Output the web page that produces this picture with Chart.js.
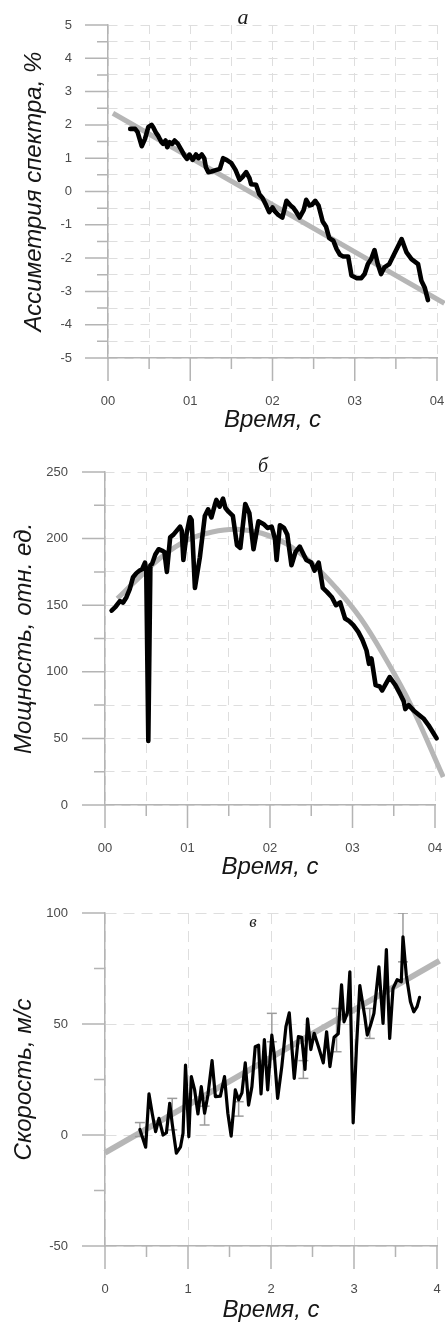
<!DOCTYPE html>
<html lang="ru">
<head>
<meta charset="utf-8">
<title>Асимметрия, мощность, скорость</title>
<script src="https://cdn.jsdelivr.net/npm/chart.js@4.4.1/dist/chart.umd.min.js"></script>
<style>
  html, body { margin: 0; padding: 0; background: #fff; }
  #wrap { position: relative; width: 445px; height: 1322px; }
  canvas { position: absolute; left: 0; }
</style>
</head>
<body>
<div id="wrap">
  <canvas id="chartA" width="445" height="432" style="top:0"></canvas>
  <canvas id="chartB" width="445" height="447" style="top:432px"></canvas>
  <canvas id="chartC" width="445" height="443" style="top:879px"></canvas>
</div>
<script>
// --- panel a: асимметрия спектра ---
const timeA = [0.27,0.33,0.36,0.41,0.45,0.49,0.53,0.55,0.58,0.61,0.65,0.67,0.70,0.72,0.75,0.78,0.81,0.85,0.89,0.93,
  0.96,0.99,1.03,1.07,1.10,1.14,1.17,1.19,1.22,1.26,1.32,1.36,1.40,1.44,1.50,1.55,1.60,1.64,1.68,1.72,
  1.74,1.80,1.84,1.88,1.92,1.96,2.00,2.03,2.07,2.12,2.17,2.22,2.25,2.28,2.33,2.38,2.41,2.45,2.48,2.52,
  2.56,2.61,2.65,2.69,2.74,2.78,2.82,2.86,2.92,2.96,3.02,3.08,3.12,3.16,3.20,3.24,3.28,3.32,3.36,3.42,
  3.48,3.57,3.63,3.69,3.77,3.81,3.85,3.89];
const asymA = [1.88,1.88,1.78,1.36,1.58,1.93,2.0,1.93,1.78,1.67,1.48,1.43,1.53,1.33,1.48,1.43,1.53,1.43,1.26,1.08,
  0.98,1.11,0.95,1.11,1.0,1.11,1.0,0.73,0.58,0.6,0.65,0.68,1.0,0.95,0.85,0.65,0.35,0.45,0.58,0.4,
  0.22,0.2,-0.08,-0.2,-0.4,-0.62,-0.48,-0.6,-0.7,-0.78,-0.28,-0.42,-0.48,-0.58,-0.78,-0.55,-0.25,-0.42,-0.4,-0.28,
  -0.42,-0.9,-1.05,-1.4,-1.48,-1.73,-1.9,-1.95,-1.95,-2.52,-2.6,-2.6,-2.48,-2.18,-2.03,-1.76,-2.18,-2.48,-2.28,-2.18,
  -1.88,-1.43,-1.83,-2.03,-2.18,-2.68,-2.88,-3.26];
const trendTimeA = [0.06, 4.09];
const trendA = [2.35, -3.36];

// --- panel б: мощность ---
const timeB = [0.08,0.13,0.18,0.22,0.26,0.30,0.34,0.38,0.42,0.45,0.485,0.50,0.525,0.55,0.57,0.61,0.65,0.69,0.72,0.75,
  0.79,0.83,0.87,0.91,0.93,0.95,0.99,1.03,1.05,1.09,1.15,1.21,1.25,1.29,1.33,1.35,1.39,1.43,1.46,1.50,
  1.55,1.60,1.64,1.70,1.75,1.80,1.86,1.92,1.97,2.02,2.06,2.08,2.12,2.17,2.21,2.26,2.31,2.36,2.40,2.44,
  2.50,2.54,2.59,2.64,2.69,2.75,2.80,2.85,2.91,2.96,3.01,3.07,3.12,3.17,3.20,3.23,3.28,3.33,3.36,3.45,
  3.52,3.58,3.62,3.64,3.68,3.74,3.80,3.86,3.92,3.98,4.02,4.05,4.08];
const powerB = [146,149,153,152,156,162,171,174,176,177,182,176,48,180,181,188,192,191,190,175,
  201,203,206,209,206,184,204,216,214,163,186,217,222,216,225,229,224,230,223,220,
  217,195,193,226,219,192,213,211,208,209,200,184,210,208,203,180,190,194,189,184,
  182,176,182,163,160,156,150,152,140,138,135,130,124,116,106,110,90,89,86,96,
  90,83,78,72,75,71,68,65,60,54,50,51,47];
const trendTimeB = [0.15,0.4,0.7,1.0,1.3,1.6,1.9,2.2,2.5,2.8,3.1,3.4,3.7,4.1];
const trendB = [155,170,187,199,205,207,204,196,182,163,140,110,76,21];

// --- panel в: скорость ---
const timeC = [0.42,0.46,0.49,0.53,0.57,0.61,0.65,0.70,0.74,0.78,0.81,0.86,0.91,0.94,0.97,1.01,1.04,1.08,1.12,1.16,
  1.20,1.24,1.29,1.33,1.39,1.44,1.48,1.52,1.57,1.61,1.65,1.69,1.73,1.77,1.81,1.85,1.88,1.92,1.96,2.01,
  2.04,2.08,2.13,2.18,2.22,2.28,2.33,2.37,2.41,2.44,2.48,2.52,2.57,2.63,2.67,2.71,2.76,2.81,2.85,2.88,
  2.92,2.95,2.99,3.03,3.07,3.13,3.16,3.20,3.24,3.30,3.35,3.39,3.43,3.47,3.52,3.57,3.59,3.63,3.68,3.72,
  3.76,3.79];
const speedC = [2.5,-2,-5.5,18.5,9.5,1.5,7.5,0,1,14.3,5,-8.2,-5.3,0.8,31.5,-0.8,26.3,20.3,9.5,21.8,
  9.8,18,33.5,17.3,17.5,26.3,9.8,-0.5,20.3,15.8,19,32.5,13.5,21.8,39.8,40.5,18.5,43,20.3,45,
  36,16.5,30.8,48.8,55,25.5,44.3,44,29.5,52.3,38.5,45.8,40,32.5,46.5,30.8,44,45.6,67.6,51,
  55,73.5,5.5,39.8,67.3,53.3,45,49.5,54.8,75.7,50.3,83.5,43.5,66,70,69,89.3,72,60,55.5,
  57.8,62];
const trendTimeC = [0, 4.03];
const trendC = [-8, 78.5];
const errTimeC = [0.42, 0.81, 1.20, 1.61, 2.01, 2.39, 2.79, 3.19, 3.59];
const errLowC = [-0.7, 2.3, 4.5, 8.5, 42, 25.5, 37.5, 43.5, 78];
const errHighC = [5.6, 16.5, 13, 15, 54.8, 33.5, 57, 57, 100];

// подписи делений
const xLabelsAB = ['00', '01', '02', '03', '04'];
const xLabelsC = ['0', '1', '2', '3', '4'];
const yLabelsA = ['-5', '-4', '-3', '-2', '-1', '0', '1', '2', '3', '4', '5'];
const yLabelsB = ['0', '50', '100', '150', '200', '250'];
const yLabelsC = ['-50', '0', '50', '100'];

const TICK_COLOR = '#4a4a4a';
const AXIS_COLOR = '#b4b4b4';
const GRID_COLOR = '#dedede';
const TITLE_COLOR = '#161616';
const SANS = "'Liberation Sans', Arial, sans-serif";
const tickFont = { family: SANS, size: 13 };
const titleFont = { family: SANS, size: 24, style: 'italic', lineHeight: 1 };

function isMajor(v, step) {
  const r = v / step;
  return Math.abs(r - Math.round(r)) < 1e-6;
}

function pairs(xs, ys) {
  return xs.map((x, i) => ({ x: x, y: ys[i] }));
}

// засечки на осях: длинные на основных делениях, короткие на промежуточных
const tickMarks = {
  id: 'tickMarks',
  afterDraw(chart, args, opts) {
    const { ctx, chartArea: area, scales: { x, y } } = chart;
    ctx.save();
    ctx.strokeStyle = AXIS_COLOR;
    ctx.lineWidth = 1.5;
    ctx.beginPath();
    x.ticks.forEach(t => {
      const px = x.getPixelForValue(t.value);
      const len = isMajor(t.value, opts.xMajor) ? 23 : 11;
      ctx.moveTo(px, area.bottom);
      ctx.lineTo(px, area.bottom + len);
    });
    y.ticks.forEach(t => {
      const py = y.getPixelForValue(t.value);
      const len = isMajor(t.value, opts.yMajor) ? 23 : 11;
      ctx.moveTo(area.left, py);
      ctx.lineTo(area.left - len, py);
    });
    ctx.stroke();
    ctx.restore();
  }
};

// буква панели (а, б, в)
const panelLetter = {
  id: 'panelLetter',
  afterDraw(chart, args, opts) {
    const ctx = chart.ctx;
    ctx.save();
    ctx.font = opts.font;
    ctx.fillStyle = '#1a1a1a';
    ctx.textAlign = 'center';
    ctx.textBaseline = 'middle';
    ctx.fillText(opts.text, opts.x, opts.y);
    ctx.restore();
  }
};

function buildChart(id, p) {
  return new Chart(document.getElementById(id), {
    type: 'line',
    data: { datasets: p.datasets },
    options: {
      responsive: false,
      animation: false,
      events: [],
      layout: { padding: { top: p.padTop, right: p.padRight, left: 0, bottom: 0 } },
      plugins: {
        legend: { display: false },
        tooltip: { enabled: false },
        tickMarks: { xMajor: 1, yMajor: p.yMajor },
        panelLetter: p.letter
      },
      scales: {
        x: {
          type: 'linear',
          min: 0,
          max: 4,
          afterFit: s => {
            s.height = p.xAxisHeight;
            s.paddingLeft = 0;
            s.paddingRight = 0;
          },
          ticks: {
            stepSize: 0.5,
            autoSkip: false,
            maxRotation: 0,
            padding: 13,
            color: TICK_COLOR,
            font: tickFont,
            callback: v => isMajor(v, 1) ? p.xLabels[Math.round(v)] : ''
          },
          grid: {
            color: c => (c.tick && isMajor(c.tick.value, p.xGrid)) ? GRID_COLOR : 'transparent',
            lineWidth: 1,
            drawTicks: true,
            tickLength: 23,
            tickColor: 'transparent'
          },
          border: { display: true, color: AXIS_COLOR, width: 1.5, dash: p.dash },
          title: {
            display: true,
            text: 'Время, с',
            color: TITLE_COLOR,
            font: titleFont,
            padding: { top: 0, bottom: 0 }
          }
        },
        y: {
          type: 'linear',
          min: p.yMin,
          max: p.yMax,
          afterFit: s => {
            s.width = p.yAxisWidth;
            s.paddingTop = 0;
            s.paddingBottom = 0;
          },
          ticks: {
            stepSize: p.yStep,
            autoSkip: false,
            padding: p.yTickPad,
            color: TICK_COLOR,
            font: tickFont,
            callback: v => isMajor(v, p.yMajor) ? p.yLabels[Math.round((v - p.yMin) / p.yMajor)] : ''
          },
          grid: {
            color: c => (c.tick && isMajor(c.tick.value, p.yGrid)) ? GRID_COLOR : 'transparent',
            lineWidth: 1,
            drawTicks: true,
            tickLength: 23,
            tickColor: 'transparent'
          },
          border: { display: true, color: AXIS_COLOR, width: 1.5, dash: p.dash },
          title: {
            display: true,
            text: p.yTitle,
            color: TITLE_COLOR,
            font: titleFont,
            padding: { top: p.yTitlePad, bottom: 0 }
          }
        }
      }
    },
    plugins: [tickMarks, panelLetter]
  });
}

const blackLine = (data, w) => ({
  data: data,
  borderColor: '#000',
  borderWidth: w,
  pointRadius: 0,
  tension: 0,
  borderJoinStyle: 'round',
  borderCapStyle: 'round',
  clip: false,
  order: 0
});

const greyLine = (data, w, tension) => ({
  data: data,
  borderColor: '#b6b6b6',
  borderWidth: w,
  pointRadius: 0,
  tension: tension,
  borderCapStyle: 'butt',
  clip: false,
  order: 2
});

buildChart('chartA', {
  padTop: 25, padRight: 8, yAxisWidth: 108, xAxisHeight: 74,
  yMin: -5, yMax: 5, yStep: 0.5, yMajor: 1, yGrid: 0.5, xGrid: 0.5,
  yLabels: yLabelsA, xLabels: xLabelsAB, yTickPad: 13, yTitlePad: 22,
  dash: [9, 7],
  yTitle: 'Ассиметрия спектра, %',
  letter: { text: 'а', x: 243, y: 18, font: "italic 22px 'Liberation Serif', serif" },
  datasets: [
    blackLine(pairs(timeA, asymA), 4.6),
    greyLine(pairs(trendTimeA, trendA), 5, 0)
  ]
});

buildChart('chartB', {
  padTop: 40, padRight: 10, yAxisWidth: 105, xAxisHeight: 74,
  yMin: 0, yMax: 250, yStep: 25, yMajor: 50, yGrid: 25, xGrid: 0.5,
  yLabels: yLabelsB, xLabels: xLabelsAB, yTickPad: 14, yTitlePad: 12,
  dash: [9, 7],
  yTitle: 'Мощность, отн. ед.',
  letter: { text: 'б', x: 263, y: 35, font: "italic 20px 'Liberation Serif', serif" },
  datasets: [
    blackLine(pairs(timeB, powerB), 4.6),
    greyLine(pairs(trendTimeB, trendB), 5, 0.4)
  ]
});

const errData = [];
errTimeC.forEach((t, i) => {
  errData.push({ x: t, y: errLowC[i] }, { x: t, y: errHighC[i] }, { x: t, y: null });
});

buildChart('chartC', {
  padTop: 34, padRight: 8, yAxisWidth: 105, xAxisHeight: 76,
  yMin: -50, yMax: 100, yStep: 25, yMajor: 50, yGrid: 50, xGrid: 1,
  yLabels: yLabelsC, xLabels: xLabelsC, yTickPad: 14, yTitlePad: 12,
  dash: [11, 7],
  yTitle: 'Скорость, м/с',
  letter: { text: 'в', x: 253, y: 44, font: "italic 17px 'Liberation Serif', serif" },
  datasets: [
    blackLine(pairs(timeC, speedC), 3.2),
    {
      data: errData,
      borderColor: '#9c9c9c',
      borderWidth: 1.5,
      pointStyle: 'line',
      pointRadius: 5,
      pointBorderColor: '#9c9c9c',
      pointBorderWidth: 1.5,
      spanGaps: false,
      order: 1
    },
    greyLine(pairs(trendTimeC, trendC), 6, 0)
  ]
});
</script>
</body>
</html>
